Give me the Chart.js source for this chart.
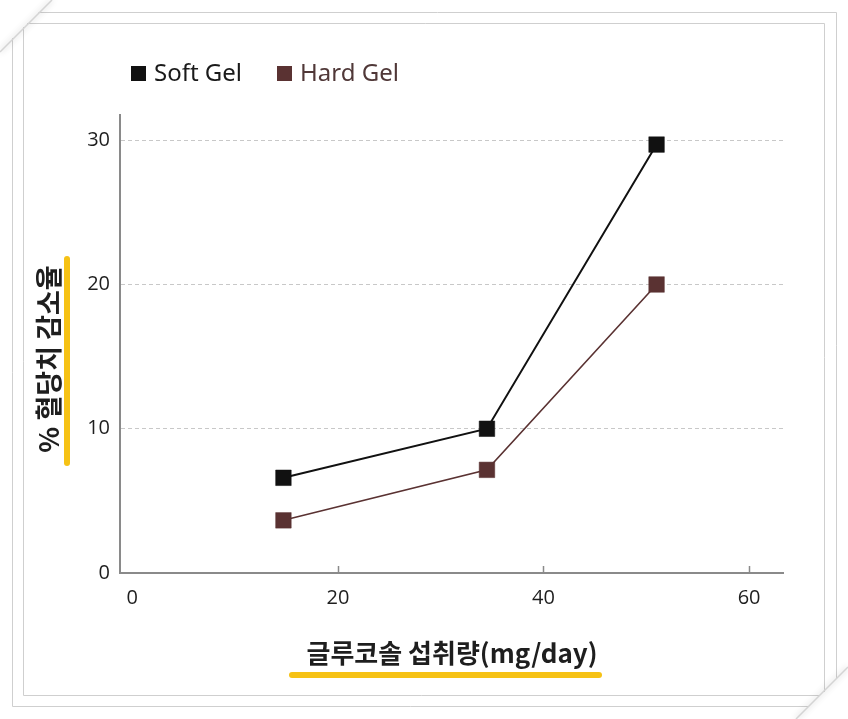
<!DOCTYPE html>
<html>
<head>
<meta charset="utf-8">
<script src="https://cdn.jsdelivr.net/npm/chart.js@4/dist/chart.umd.min.js"></script>
<style>
  html, body { margin: 0; padding: 0; background: #ffffff; }
  #wrap { width: 848px; height: 719px; position: relative; }
</style>
</head>
<body>
<div id="wrap"><canvas id="c" width="848" height="719"></canvas></div>
<script>
// ---- data ----
const intake = [14.7, 34.5, 51.0];          // mg/day
const softGel = [6.6, 10.0, 29.7];          // % reduction
const hardGel = [3.65, 7.15, 20.0];
const seriesNames = ['Soft Gel', 'Hard Gel'];
const xTicks = [0, 20, 40, 60];
const yTicks = [0, 10, 20, 30];
const xTitle = '글루코솔 섭취량(mg/day)';
const yTitle = '% 혈당치 감소율';

const SOFT = '#111111';
const HARD = '#5a3232';
const AXIS = '#8a8a8a';
const YELLOW = '#f6c215';

const decor = {
  id: 'decor',
  beforeDraw(chart) {
    const ctx = chart.ctx;
    ctx.save();
    ctx.fillStyle = '#ffffff';
    ctx.fillRect(0, 0, chart.width, chart.height);
    // frame lines
    ctx.strokeStyle = '#cfcfcf';
    ctx.lineWidth = 1;
    ctx.beginPath();
    // outer
    ctx.moveTo(38.5, 12.5); ctx.lineTo(836.5, 12.5); ctx.lineTo(836.5, 679);
    ctx.moveTo(12.5, 38); ctx.lineTo(12.5, 706.5); ctx.lineTo(809, 706.5);
    // inner
    ctx.moveTo(27, 23.5); ctx.lineTo(824.5, 23.5); ctx.lineTo(824.5, 692);
    ctx.moveTo(23.5, 27); ctx.lineTo(23.5, 695.5); ctx.lineTo(820, 695.5);
    ctx.stroke();
    // folded corners
    ctx.shadowColor = 'rgba(0,0,0,0.25)';
    ctx.shadowBlur = 6;
    ctx.strokeStyle = '#d4d4d4';
    ctx.lineWidth = 1.5;
    ctx.beginPath();
    ctx.moveTo(0, 52); ctx.lineTo(52, 0);
    ctx.moveTo(848, 667); ctx.lineTo(796, 719);
    ctx.stroke();
    ctx.restore();
  },
  afterDraw(chart) {
    const ctx = chart.ctx;
    const xs = chart.scales.x, ys = chart.scales.y;
    ctx.save();
    // inner tick marks on x axis
    ctx.strokeStyle = AXIS;
    ctx.lineWidth = 1.5;
    ctx.beginPath();
    xTicks.forEach(v => {
      if (v === 0) return;
      const px = Math.round(xs.getPixelForValue(v)) + 0.5;
      ctx.moveTo(px, ys.bottom); ctx.lineTo(px, ys.bottom - 7);
    });
    ctx.stroke();

    // legend
    const items = [
      {x: 131, color: SOFT, text: seriesNames[0], tcolor: '#1a1a1a'},
      {x: 277, color: HARD, text: seriesNames[1], tcolor: '#503838'}
    ];
    ctx.font = '24px "Noto Sans", "Open Sans", sans-serif';
    ctx.textBaseline = 'middle';
    ctx.textAlign = 'left';
    items.forEach(it => {
      ctx.fillStyle = it.color;
      ctx.fillRect(it.x, 66, 15, 15);
      ctx.fillStyle = it.tcolor;
      ctx.fillText(it.text, it.x + 23, 74);
    });

    // y title + yellow bar
    ctx.strokeStyle = YELLOW;
    ctx.lineCap = 'round';
    ctx.lineWidth = 6;
    ctx.beginPath();
    ctx.moveTo(67, 259); ctx.lineTo(67, 463);
    ctx.stroke();
    ctx.save();
    ctx.translate(49, 359);
    ctx.rotate(-Math.PI / 2);
    ctx.font = 'bold 27px "Noto Sans CJK KR", sans-serif';
    ctx.fillStyle = '#1e1e1e';
    ctx.textAlign = 'center';
    ctx.textBaseline = 'middle';
    ctx.fillText(yTitle, 0, 0);
    ctx.restore();

    // x title + underline
    ctx.beginPath();
    ctx.moveTo(292, 675); ctx.lineTo(599, 675);
    ctx.stroke();
    ctx.font = 'bold 26px "Noto Sans CJK KR", sans-serif';
    ctx.fillStyle = '#1e1e1e';
    ctx.textAlign = 'center';
    ctx.textBaseline = 'middle';
    ctx.fillText(xTitle, 452, 653);
    ctx.restore();
  }
};

new Chart(document.getElementById('c'), {
  type: 'line',
  data: {
    datasets: [
      {
        label: seriesNames[0],
        data: intake.map((x, i) => ({x, y: softGel[i]})),
        borderColor: SOFT,
        backgroundColor: SOFT,
        borderWidth: 2,
        pointStyle: 'rect',
        pointRadius: 11,
        pointHoverRadius: 11,
        pointBorderWidth: 0.5,
        pointBorderColor: SOFT,
        pointBackgroundColor: SOFT,
        tension: 0
      },
      {
        label: seriesNames[1],
        data: intake.map((x, i) => ({x, y: hardGel[i]})),
        borderColor: HARD,
        backgroundColor: HARD,
        borderWidth: 1.6,
        pointStyle: 'rect',
        pointRadius: 11,
        pointHoverRadius: 11,
        pointBorderWidth: 0.5,
        pointBorderColor: HARD,
        pointBackgroundColor: HARD,
        tension: 0
      }
    ]
  },
  options: {
    responsive: false,
    animation: false,
    events: [],
    layout: { padding: { left: 0, top: 115, right: 65, bottom: 0 } },
    plugins: {
      legend: { display: false },
      tooltip: { enabled: false },
      title: { display: false }
    },
    scales: {
      x: {
        type: 'linear',
        min: -1.2,
        max: 63.3,
        afterBuildTicks: (axis) => { axis.ticks = xTicks.map(v => ({value: v})); },
        afterFit: (axis) => { axis.height = 719 - 573; },
        grid: { display: false, drawTicks: false },
        border: { display: true, color: AXIS, width: 2 },
        ticks: {
          padding: 13,
          color: '#1e1e1e',
          font: { family: '"Open Sans", "Noto Sans", sans-serif', size: 20 }
        }
      },
      y: {
        type: 'linear',
        min: 0,
        max: 31.75,
        afterBuildTicks: (axis) => { axis.ticks = yTicks.map(v => ({value: v})); },
        afterFit: (axis) => { axis.width = 120; },
        grid: {
          drawTicks: false,
          lineWidth: 1,
          color: (c) => (c.tick && c.tick.value === 0) ? 'rgba(0,0,0,0)' : '#c8c8c8'
        },
        border: { display: true, color: AXIS, width: 2, dash: [4, 3] },
        ticks: {
          padding: 10,
          color: '#1e1e1e',
          font: { family: '"Open Sans", "Noto Sans", sans-serif', size: 20 }
        }
      }
    }
  },
  plugins: [decor]
});
</script>
</body>
</html>
